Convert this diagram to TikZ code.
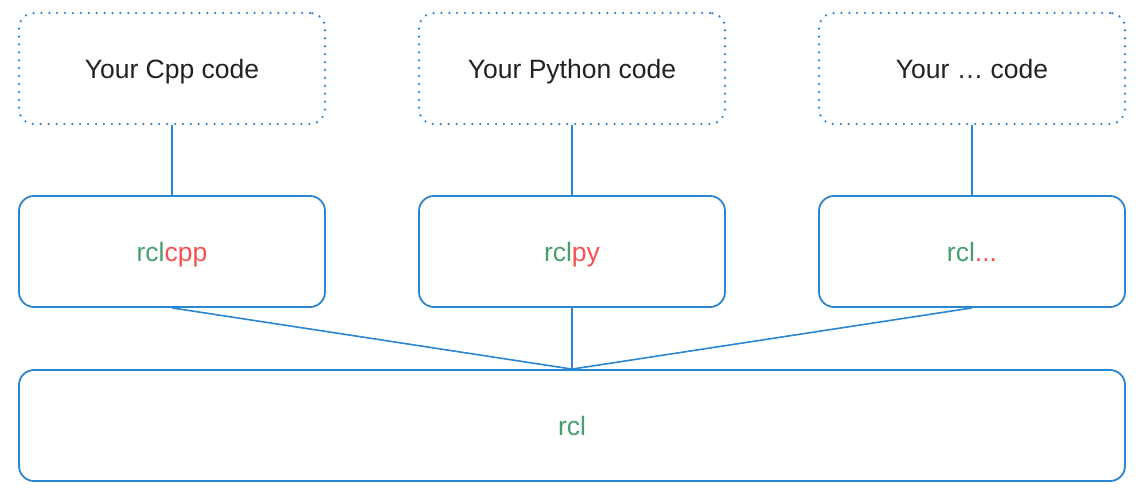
\documentclass[tikz,border=0pt]{standalone}
\usepackage{fontspec}
\setmainfont{Liberation Sans}
\definecolor{lblue}{HTML}{2A86D1}
\definecolor{lgreen}{HTML}{4A9E6E}
\definecolor{lred}{HTML}{F45252}
\definecolor{ltext}{HTML}{222222}
\begin{document}
\begin{tikzpicture}[x=1pt,y=-1pt,
  boxtext/.style={font=\fontsize{26.5}{30}\selectfont,text height=19pt,text depth=0pt,inner sep=0pt,minimum width=306pt,minimum height=111pt,rounded corners=15pt},
  codebox/.style={boxtext,draw=lblue,line width=2.5pt,dash pattern=on 0pt off 7.9pt,line cap=round,text=ltext},
  libbox/.style={boxtext,draw=lblue,line width=1.8pt},
  link/.style={draw=lblue,line width=1.6pt}]
\useasboundingbox (0,0) rectangle (1146,493);
\node[codebox] (c1) at (172,68.5) {Your Cpp code};
\node[codebox] (c2) at (572,68.5) {Your Python code};
\node[codebox] (c3) at (972,68.5) {Your … code};
\node[libbox] (l1) at (172,251.5) {\textcolor{lgreen}{rcl}\textcolor{lred}{cpp}};
\node[libbox] (l2) at (572,251.5) {\textcolor{lgreen}{rcl}\textcolor{lred}{py}};
\node[libbox] (l3) at (972,251.5) {\textcolor{lgreen}{rcl}\textcolor{lred}{...}};
\node[libbox,minimum width=1106pt] (rcl) at (572,425.5) {\textcolor{lgreen}{rcl}};
\draw[link] (c1) -- (l1);
\draw[link] (c2) -- (l2);
\draw[link] (c3) -- (l3);
\draw[link] (l1.south) -- (rcl.north);
\draw[link] (l2.south) -- (rcl.north);
\draw[link] (l3.south) -- (rcl.north);
\end{tikzpicture}
\end{document}
